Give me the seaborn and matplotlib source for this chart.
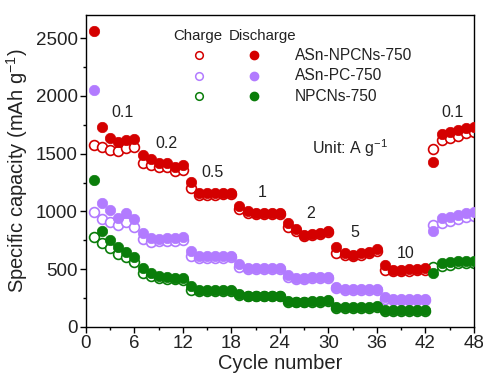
import numpy as np
import pandas as pd
import matplotlib
matplotlib.use("Agg")
import matplotlib.pyplot as plt
import seaborn as sns
from matplotlib.lines import Line2D

cycles = list(range(1, 49))

# ASn-NPCNs-750
red_dis = [2560, 1733, 1632, 1603, 1618, 1626,
           1488, 1451, 1421, 1416, 1387, 1401,
           1251, 1160, 1156, 1156, 1158, 1160,
           1047, 1003, 983, 983, 985, 985,
           897, 848, 796, 805, 816, 830,
           695, 637, 623, 637, 651, 672,
           536, 493, 495, 498, 502, 508,
           1430, 1675, 1690, 1704, 1719, 1733]
red_chg = [1574, 1554, 1531, 1522, 1546, 1560,
           1421, 1401, 1381, 1387, 1352, 1358,
           1199, 1140, 1145, 1145, 1148, 1150,
           1018, 990, 975, 975, 978, 978,
           868, 830, 785, 795, 805, 818,
           643, 622, 612, 625, 640, 658,
           493, 482, 484, 488, 490, 494,
           1537, 1618, 1638, 1652, 1676, 1690]

# ASn-PC-750
pur_dis = [2050, 1075, 1012, 940, 989, 932,
           810, 772, 758, 767, 772, 775,
           660, 614, 612, 612, 612, 614,
           542, 513, 513, 513, 513, 513,
           450, 427, 427, 430, 432, 435,
           349, 326, 326, 326, 326, 326,
           262, 240, 240, 240, 240, 240,
           830, 940, 954, 969, 983, 997]
pur_chg = [997, 932, 911, 882, 911, 868,
           761, 738, 741, 745, 748, 750,
           614, 600, 600, 600, 600, 602,
           522, 505, 505, 505, 505, 505,
           430, 418, 418, 420, 422, 425,
           335, 318, 318, 318, 318, 318,
           245, 232, 232, 232, 232, 232,
           882, 897, 920, 935, 950, 965]

# NPCNs-750
grn_dis = [1272, 833, 752, 689, 651, 608,
           508, 464, 441, 430, 421, 421,
           355, 320, 320, 320, 320, 322,
           285, 271, 271, 271, 271, 271,
           228, 219, 219, 222, 226, 233,
           176, 176, 176, 176, 176, 178,
           147, 147, 147, 147, 147, 147,
           464, 551, 560, 571, 572, 571]
grn_chg = [781, 729, 681, 631, 603, 565,
           470, 441, 421, 418, 412, 410,
           320, 310, 310, 310, 310, 312,
           275, 265, 265, 265, 265, 265,
           220, 212, 212, 215, 220, 225,
           168, 168, 168, 168, 168, 170,
           140, 140, 140, 140, 140, 140,
           522, 528, 540, 552, 556, 556]

series_names = ["ASn-NPCNs-750", "ASn-PC-750", "NPCNs-750"]
series_colors = ["#d40000", "#b27bff", "#0a7d0a"]

rate_labels = ["0.1", "0.2", "0.5", "1", "2", "5", "10", "0.1"]
rate_x = [4.5, 10.0, 15.6, 21.8, 27.8, 33.3, 39.5, 45.3]
rate_y = [1860, 1590, 1340, 1168, 986, 822, 640, 1860]

sns.set_theme(style="ticks")
plt.rcParams["font.family"] = ["Liberation Sans", "DejaVu Sans"]
plt.rcParams["mathtext.fontset"] = "custom"
plt.rcParams["mathtext.rm"] = "Liberation Sans"
plt.rcParams["mathtext.it"] = "Liberation Sans:italic"

fig = plt.figure(figsize=(4.83, 3.78), dpi=100)
ax = fig.add_axes([0.178, 0.135, 0.803, 0.825])

data = [(red_chg, red_dis), (pur_chg, pur_dis), (grn_chg, grn_dis)]
for (chg, dis), name, col in zip(data, series_names, series_colors):
    df = pd.DataFrame({"cycle": cycles, "charge": chg, "discharge": dis})
    sns.scatterplot(data=df, x="cycle", y="charge", ax=ax, color=col,
                    facecolor="white", edgecolor=col, linewidth=1.2,
                    s=50, marker="o", zorder=2)
    sns.scatterplot(data=df, x="cycle", y="discharge", ax=ax, color=col,
                    edgecolor=col, linewidth=0.5, s=56, marker="o", zorder=3)

ax.set_xlim(0, 48)
ax.set_ylim(0, 2700)
ax.set_xticks(range(0, 49, 6))
ax.set_xticks(range(3, 48, 6), minor=True)
ax.set_yticks(range(0, 2501, 500))
ax.set_yticks(range(250, 2700, 500), minor=True)
ax.tick_params(axis="both", which="major", labelsize=13.5, length=4,
               width=1.0, direction="out", color="black", pad=2,
               labelcolor="#222222")
ax.tick_params(axis="both", which="minor", length=2.5, width=1.0,
               direction="out", color="black")
for sp in ax.spines.values():
    sp.set_linewidth(1.0)
    sp.set_color("black")
ax.set_xlabel("Cycle number", fontsize=14.5, labelpad=1, color="#222222")
ax.set_ylabel("Specific capacity (mAh g$^{-1}$)", fontsize=14.5, labelpad=4,
              color="#222222")

for t, x, y in zip(rate_labels, rate_x, rate_y):
    ax.text(x, y, t, fontsize=11.5, ha="center", va="center", color="#222222")

ax.text(28.0, 1548, "Unit: A g$^{-1}$", fontsize=11.5, ha="left", va="center",
        color="#222222")

# legend (manual layout)
tr = ax.transAxes
ax.text(0.289, 0.932, "Charge", transform=tr, fontsize=10.8, ha="center",
        va="center", color="#222222")
ax.text(0.456, 0.932, "Discharge", transform=tr, fontsize=10.8, ha="center",
        va="center", color="#222222")
rows_y = [0.872, 0.806, 0.740]
for name, col, yy in zip(series_names, series_colors, rows_y):
    ax.add_line(Line2D([0.291], [yy], transform=tr, marker="o", markersize=5.5,
                       markerfacecolor="white", markeredgecolor=col,
                       markeredgewidth=1.1, linestyle="none"))
    ax.add_line(Line2D([0.433], [yy], transform=tr, marker="o", markersize=6,
                       markerfacecolor=col, markeredgecolor=col,
                       linestyle="none"))
    ax.text(0.539, yy, name, transform=tr, fontsize=11.2, ha="left",
            va="center", color="#222222")

fig.savefig("out.png", dpi=100)
